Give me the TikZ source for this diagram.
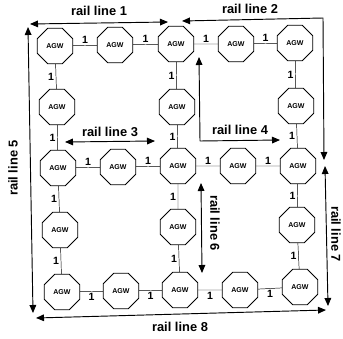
\documentclass[tikz,border=0pt]{standalone}
\usepackage{fontspec}
\setmainfont{Liberation Sans}
\usetikzlibrary{arrows.meta,shapes.geometric}
\usetikzlibrary{positioning}
\tikzset{agw/.style={draw,regular polygon,regular polygon sides=8,minimum size=1.15cm,inner sep=0pt,line width=0.7pt,font=\fontsize{6}{7}\selectfont\bfseries},
  wt/.style={font=\fontsize{9}{10}\selectfont\bfseries,inner sep=1.5pt},
  rail/.style={line width=0.8pt,<->},
  rlbl/.style={font=\fontsize{11}{13}\selectfont\bfseries}}

\begin{document}
\begin{tikzpicture}[x=0.03cm,y=-0.03cm,>={Triangle[length=2.4mm,width=2mm]},line join=round]
\useasboundingbox (0,0) rectangle (343,338);
% --- gateways, row by row
\node[agw] (g11) at (55,46) {AGW};
\node[agw] (g12) at (115,45) {AGW};
\node[agw] (g13) at (176,44) {AGW};
\node[agw] (g14) at (236,44) {AGW};
\node[agw] (g15) at (295,43) {AGW};
\node[agw] (g21) at (57,107) {AGW};
\node[agw] (g23) at (177,107) {AGW};
\node[agw] (g25) at (296,106) {AGW};
\node[agw] (g31) at (58,168) {AGW};
\node[agw] (g32) at (118,167) {AGW};
\node[agw] (g33) at (178,166) {AGW};
\node[agw] (g34) at (238,166) {AGW};
\node[agw] (g35) at (298,166) {AGW};
\node[agw] (g41) at (60,230) {AGW};
\node[agw] (g43) at (178,227) {AGW};
\node[agw] (g45) at (297,225) {AGW};
\node[agw] (g51) at (62,292) {AGW};
\node[agw] (g52) at (121,291) {AGW};
\node[agw] (g53) at (180,290) {AGW};
\node[agw] (g54) at (240,290) {AGW};
\node[agw] (g55) at (300,287) {AGW};
% --- links with weights
\draw (g11) -- node[wt,above]{1} (g12);
\draw (g12) -- node[wt,above]{1} (g13);
\draw (g13) -- node[wt,above]{1} (g14);
\draw (g14) -- node[wt,above]{1} (g15);
\draw (g31) -- node[wt,above]{1} (g32);
\draw (g32) -- node[wt,above]{1} (g33);
\draw (g33) -- node[wt,above]{1} (g34);
\draw (g34) -- node[wt,above]{1} (g35);
\draw (g51) -- node[wt,below]{1} (g52);
\draw (g52) -- node[wt,below]{1} (g53);
\draw (g53) -- node[wt,below]{1} (g54);
\draw (g54) -- node[wt,below]{1} (g55);
\draw (g11) -- node[wt,left]{1} (g21);
\draw (g21) -- node[wt,left]{1} (g31);
\draw (g31) -- node[wt,left]{1} (g41);
\draw (g41) -- node[wt,left]{1} (g51);
\draw (g13) -- node[wt,left]{1} (g23);
\draw (g23) -- node[wt,left]{1} (g33);
\draw (g33) -- node[wt,left]{1} (g43);
\draw (g43) -- node[wt,left]{1} (g53);
\draw (g15) -- node[wt,left]{1} (g25);
\draw (g25) -- node[wt,left]{1} (g35);
\draw (g35) -- node[wt,left]{1} (g45);
\draw (g45) -- node[wt,left]{1} (g55);
% --- rail lines
\coordinate (r1a) at (168,22); \coordinate (r1b) at (30,24);
\coordinate (r2a) at (182,21); \coordinate (r2c) at (323,18); \coordinate (r2b) at (324,160);
\coordinate (r3a) at (65,142); \coordinate (r3b) at (155,141);
\coordinate (r4a) at (199,57); \coordinate (r4c) at (200,141); \coordinate (r4b) at (280,140);
\coordinate (r5a) at (28,27); \coordinate (r5b) at (33,313);
\coordinate (r6a) at (201,183); \coordinate (r6b) at (202,273);
\coordinate (r7a) at (325,166); \coordinate (r7b) at (328,306);
\coordinate (r8a) at (36,318); \coordinate (r8b) at (326,310);
\draw[rail] (r1a) -- (r1b);
\draw[rail] (r2a) -- (r2c) -- (r2b);
\draw[rail] (r3a) -- (r3b);
\draw[rail] (r4a) -- (r4c) -- (r4b);
\draw[rail] (r5a) -- (r5b);
\draw[rail] (r6a) -- (r6b);
\draw[rail] (r7a) -- (r7b);
\draw[rail] (r8a) -- (r8b);
\node[rlbl] (l1) at (99,11) {rail line 1};
\node[rlbl] (l2) at (250,9) {rail line 2};
\node[rlbl] (l3) at (110,132) {rail line 3};
\node[rlbl] (l4) at (240,130) {rail line 4};
\node[rlbl,rotate=90] (l5) at (13,168) {rail line 5};
\node[rlbl,rotate=-90] (l6) at (215,223) {rail line 6};
\node[rlbl,rotate=-90,inner sep=1pt] (l7) at (336,234) {rail line 7};
\node[rlbl] (l8) at (180,327) {rail line 8};
\end{tikzpicture}
\end{document}
